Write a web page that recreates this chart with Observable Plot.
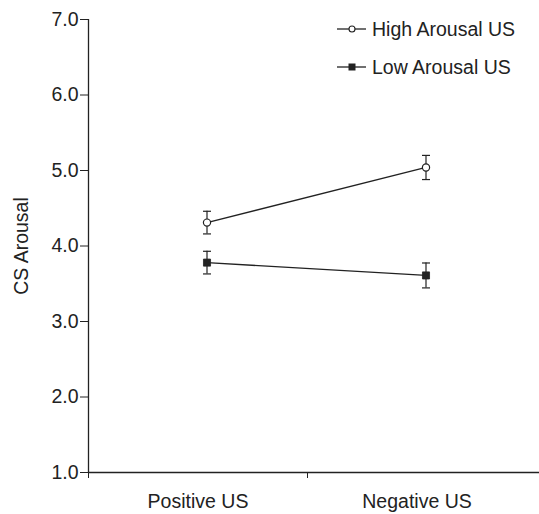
<!DOCTYPE html>
<html>
<head>
<meta charset="utf-8">
<script src="https://cdn.jsdelivr.net/npm/d3@7"></script>
<script src="https://cdn.jsdelivr.net/npm/@observablehq/plot@0.6"></script>
<style>
  body { margin: 0; background: #fff; }
  #wrap { position: relative; width: 539px; height: 514px; font-family: "Liberation Sans", Arial, sans-serif; color: #222; }
  #legend { position: absolute; left: 336px; top: 10px; font-size: 19.5px; line-height: 38px; }
  #legend div { display: flex; align-items: center; white-space: nowrap; height: 38px; }
  #legend svg { margin-right: 6px; }
</style>
</head>
<body>
<div id="wrap"></div>
<script>
const categories = ["Positive US", "Negative US"];
const series = ["High Arousal US", "Low Arousal US"];
const highMeans = [4.31, 5.04];
const lowMeans = [3.78, 3.61];
const highSE = [0.15, 0.16];
const lowSE = [0.15, 0.165];
const yTicks = [1, 2, 3, 4, 5, 6, 7];

const ink = "#222";
const rows = [];
categories.forEach((c, i) => {
  rows.push({cat: c, xi: i + 0.5, series: series[0], mean: highMeans[i], se: highSE[i]});
  rows.push({cat: c, xi: i + 0.5, series: series[1], mean: lowMeans[i], se: lowSE[i]});
});
const high = rows.filter(d => d.series === series[0]);
const low = rows.filter(d => d.series === series[1]);

const capSymbol = {
  draw(context, size) {
    const w = Math.sqrt(size) / 2;
    context.moveTo(-w, 0);
    context.lineTo(w, 0);
  }
};
const shift = 9;
const fs = 19.5;

const chart = Plot.plot({
  width: 539,
  height: 514,
  marginTop: 19,
  marginBottom: 42,
  marginLeft: 88,
  marginRight: 13,
  style: {fontFamily: "Liberation Sans, Arial, sans-serif", fontSize: fs + "px", color: ink, background: "#fff"},
  x: {domain: [0, 2]},
  y: {domain: [1, 7]},
  marks: [
    Plot.axisY({ticks: yTicks, tickFormat: d => d.toFixed(1), tickSize: 8, tickPadding: 2, fontSize: fs, stroke: ink, fill: ink,
      label: "CS Arousal", labelAnchor: "center", labelArrow: "none", labelOffset: 74}),
    Plot.axisX({ticks: [0, 1], tickFormat: () => "", tickSize: 6, stroke: ink, label: null}),
    Plot.axisX({ticks: categories.map((c, i) => i + 0.5), tickFormat: (d) => categories[Math.floor(d)], tickSize: 0, tickPadding: 22, fontSize: fs, fill: ink, label: null}),
    Plot.ruleX([0], {y1: 1, y2: 7, stroke: ink, strokeWidth: 1.3}),
    Plot.ruleY([1], {x1: 0, x2: 2.06, stroke: ink, strokeWidth: 1.3, clip: false}),
    Plot.ruleX(rows, {x: "xi", y1: d => d.mean - d.se, y2: d => d.mean + d.se, dx: shift, stroke: ink, strokeWidth: 1.2}),
    Plot.dot(rows, {x: "xi", y: d => d.mean + d.se, dx: shift, symbol: capSymbol, r: 4.5, stroke: ink, strokeWidth: 1.2}),
    Plot.dot(rows, {x: "xi", y: d => d.mean - d.se, dx: shift, symbol: capSymbol, r: 4.5, stroke: ink, strokeWidth: 1.2}),
    Plot.line(rows, {x: "xi", y: "mean", z: "series", dx: shift, stroke: ink, strokeWidth: 1.3}),
    Plot.dot(high, {x: "xi", y: "mean", dx: shift, symbol: "circle", r: 3.6, fill: "#fff", stroke: ink, strokeWidth: 1.2}),
    Plot.dot(low, {x: "xi", y: "mean", dx: shift, symbol: "square", r: 4, fill: ink, stroke: ink, strokeWidth: 0.8})
  ]
});

const wrap = document.getElementById("wrap");
wrap.appendChild(chart);

const legend = document.createElement("div");
legend.id = "legend";
series.forEach((s, i) => {
  const row = document.createElement("div");
  const sym = i === 0
    ? `<circle cx="16" cy="6" r="3" fill="#fff" stroke="${ink}" stroke-width="1.1"/>`
    : `<rect x="12.5" y="2.5" width="7" height="7" fill="${ink}"/>`;
  row.innerHTML = `<svg width="30" height="12"><line x1="1" x2="30" y1="6" y2="6" stroke="${ink}" stroke-width="1.3"/>${sym}</svg><span>${s}</span>`;
  legend.appendChild(row);
});
wrap.appendChild(legend);
</script>
</body>
</html>
